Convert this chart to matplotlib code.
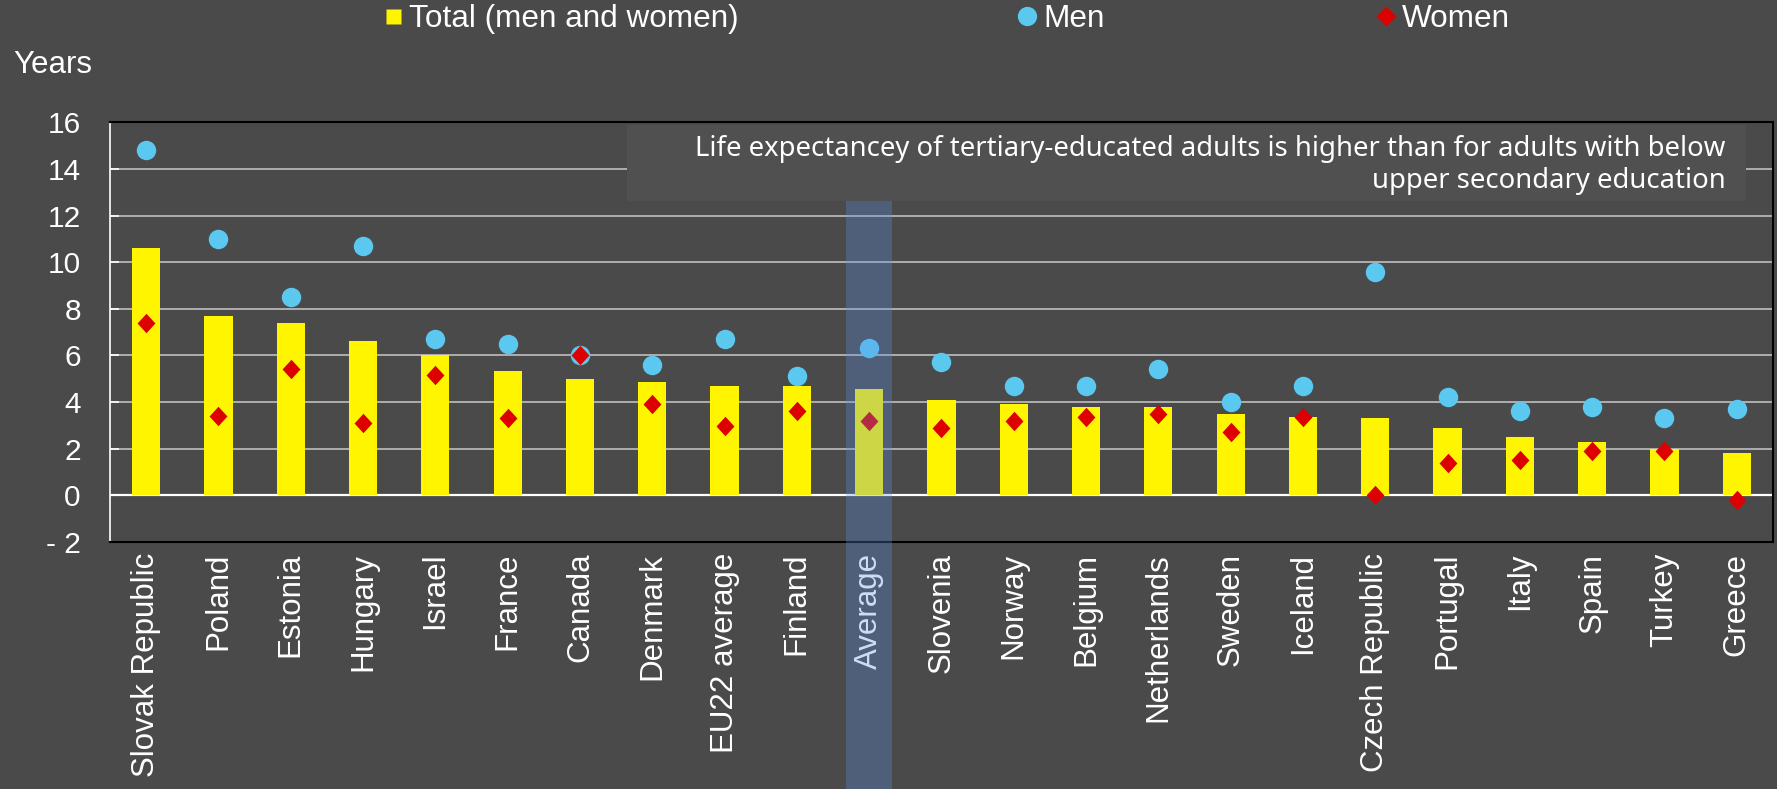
import matplotlib
matplotlib.use('Agg')
import matplotlib.pyplot as plt
import numpy as np
from matplotlib.lines import Line2D
from matplotlib.patches import Rectangle
from matplotlib.path import Path
from matplotlib.transforms import blended_transform_factory

# Data (years gained, tertiary vs below upper secondary)
countries = ['Slovak Republic', 'Poland', 'Estonia', 'Hungary', 'Israel', 'France',
             'Canada', 'Denmark', 'EU22 average', 'Finland', 'Average', 'Slovenia',
             'Norway', 'Belgium', 'Netherlands', 'Sweden', 'Iceland', 'Czech Republic',
             'Portugal', 'Italy', 'Spain', 'Turkey', 'Greece']
total = [10.6, 7.7, 7.4, 6.6, 6.0, 5.35, 5.0, 4.85, 4.7, 4.7, 4.55, 4.1,
         3.9, 3.8, 3.8, 3.5, 3.35, 3.3, 2.9, 2.5, 2.3, 2.0, 1.8]
men = [14.8, 11.0, 8.5, 10.7, 6.7, 6.5, 6.0, 5.6, 6.7, 5.1, 6.3, 5.7,
       4.7, 4.7, 5.4, 4.0, 4.7, 9.6, 4.2, 3.6, 3.8, 3.3, 3.7]
women = [7.4, 3.4, 5.4, 3.1, 5.15, 3.3, 6.0, 3.9, 2.95, 3.6, 3.2, 2.9,
         3.2, 3.35, 3.5, 2.7, 3.35, 0.0, 1.4, 1.5, 1.9, 1.9, -0.2]
yticks = [-2, 0, 2, 4, 6, 8, 10, 12, 14, 16]
ytick_labels = ['- 2', '0', '2', '4', '6', '8', '10', '12', '14', '16']
highlight = 'Average'
note = ('Life expectancey of tertiary-educated adults is higher than for adults with below\n'
        'upper secondary education')

BG, BOX = '#4a4a4a', '#505050'
YELLOW, BLUE, RED = '#fff500', '#5bc8f0', '#dc0000'
FONT = 'Liberation Sans'

plt.rcParams['font.family'] = [FONT, 'DejaVu Sans']


def _diamond(w):
    return Path([(0, 1), (w, 0), (0, -1), (-w, 0), (0, 1)],
                [Path.MOVETO, Path.LINETO, Path.LINETO, Path.LINETO, Path.CLOSEPOLY])


fig = plt.figure(figsize=(17.77, 7.89), dpi=100)
fig.patch.set_facecolor(BG)
ax = fig.add_axes([0.0619, 0.3134, 0.9358, 0.5314])
ax.set_facecolor(BG)

x = np.arange(len(countries))
ax.bar(x, total, width=0.39, color=YELLOW, zorder=2)
ax.plot(x, men, ls='none', marker='o', ms=14, mfc=BLUE, mec='none', zorder=3)
ax.plot(x, women, ls='none', marker=_diamond(0.92), ms=14, mfc=RED, mec='none', zorder=4)

ax.set_xlim(-0.5, len(countries) - 0.5)
ax.set_ylim(-2, 16)
ax.set_yticks(yticks)
ax.set_yticklabels(ytick_labels)
ax.set_xticks(x)
ax.set_xticklabels(countries, rotation=90, va='top', ha='center')
ax.tick_params(axis='x', length=0, pad=8, labelsize=22.5, colors='white')
ax.tick_params(axis='y', direction='in', length=6.5, width=1.2, pad=21,
               labelsize=21.5, colors='white')

ax.set_axisbelow(True)
ax.yaxis.grid(True, color='#bfbfbf', lw=1.2)
ax.axhline(0, color='white', lw=1.6, zorder=1)
for side in ['top', 'right', 'bottom']:
    ax.spines[side].set_color('black')
    ax.spines[side].set_linewidth(1.5)
ax.spines['left'].set_color('white')
ax.spines['left'].set_linewidth(1.2)

# note box
ax.add_patch(Rectangle((0.3109, 0.8133), 0.6729, 0.1805, transform=ax.transAxes,
                       facecolor=BOX, edgecolor='none', zorder=2.5))
ax.text(0.9717, 0.899, note, transform=ax.transAxes, ha='right', va='center',
        multialignment='right', fontsize=19.8, color='white', linespacing=1.2,
        family=['Noto Sans', 'DejaVu Sans'], zorder=3)

# highlight band over the Average column, running down through its label
i_avg = countries.index(highlight)
band = Rectangle((i_avg - 0.32, 0), 0.64, 0.7456,
                 transform=blended_transform_factory(ax.transData, fig.transFigure),
                 facecolor='#5b90e7', alpha=0.3, edgecolor='none', zorder=10)
fig.add_artist(band)

fig.text(13 / 1777, 0.907, 'Years', color='white', fontsize=22.5, va='baseline', ha='left')

# legend entries spread across the top
entries = [
    (Line2D([], [], ls='none', marker='s', ms=10.8, mfc=YELLOW, mec='none'),
     'Total (men and women)', 0.2169),
    (Line2D([], [], ls='none', marker='o', ms=13.9, mfc=BLUE, mec='none'), 'Men', 0.5735),
    (Line2D([], [], ls='none', marker=_diamond(1.0), ms=14.4, mfc=RED, mec='none'),
     'Women', 0.7755),
]
for h, lab, xpos in entries:
    fig.legend(handles=[h], labels=[lab], loc='center left', bbox_to_anchor=(xpos, 0.976),
               frameon=False, fontsize=22.7, labelcolor='white', handlelength=0.5,
               handletextpad=0.26, borderpad=0, borderaxespad=0)

fig.savefig('out.png', dpi=100, facecolor=BG)
